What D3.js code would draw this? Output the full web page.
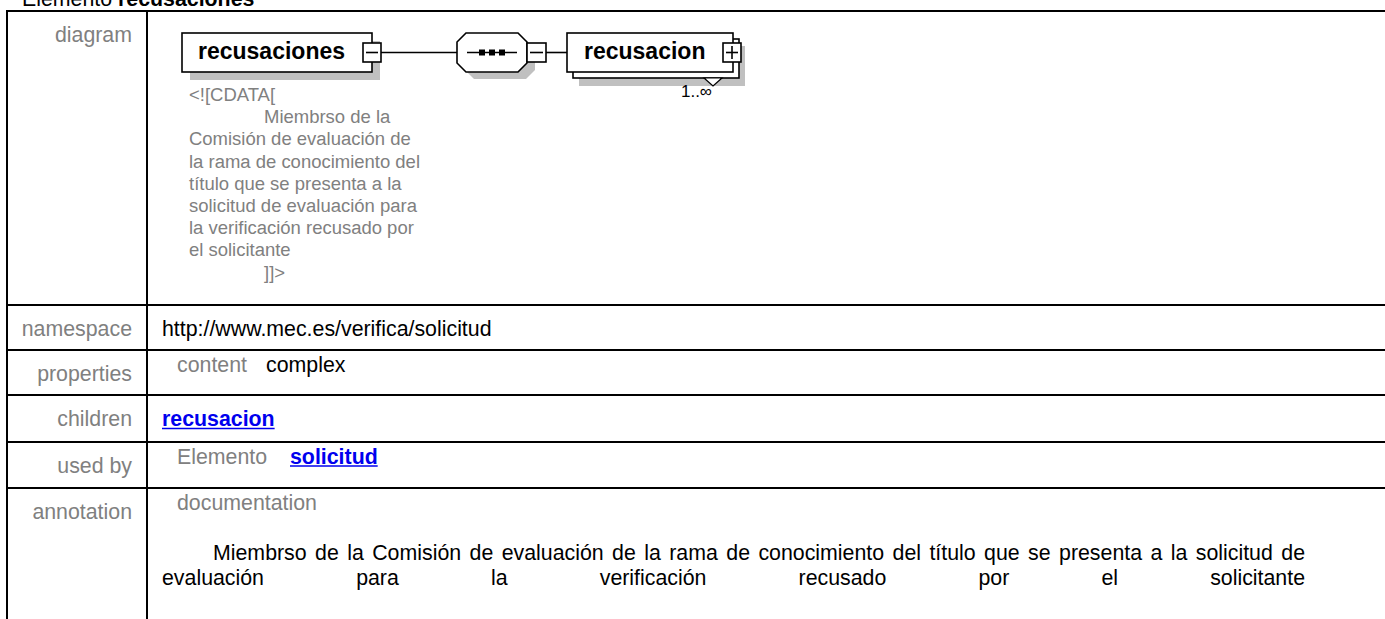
<!DOCTYPE html>
<html><head><meta charset="utf-8">
<script src="https://cdn.jsdelivr.net/npm/d3@7"></script>
<style>html,body{margin:0;padding:0;background:#fff;overflow:hidden}</style>
</head><body>
<svg id="c" width="1385" height="619"></svg>
<script>
// ---------- data ----------
const titleParts = ["Elemento", "recusaciones"];
const rowLabels = ["diagram", "namespace", "properties", "children", "used by", "annotation"];
const namespaceValue = "http://www.mec.es/verifica/solicitud";
const propertyKeys = ["content"];
const propertyValues = ["complex"];
const childrenLinks = ["recusacion"];
const usedByKinds = ["Elemento"];
const usedByLinks = ["solicitud"];
const annotationKeys = ["documentation"];
const documentationText = "Miembrso de la Comisión de evaluación de la rama de conocimiento del título que se presenta a la solicitud de evaluación para la verificación recusado por el solicitante";
const diagramNodes = ["recusaciones", "recusacion"];
const diagramCardinality = "1..∞";
const diagramNote = ["<![CDATA[", "Miembrso de la", "Comisión de evaluación de", "la rama de conocimiento del", "título que se presenta a la", "solicitud de evaluación para", "la verificación recusado por", "el solicitante", "]]>"];
const diagramNoteIndented = [false, true, false, false, false, false, false, false, true];

// ---------- setup ----------
const W = 1385, H = 619;
const svg = d3.select("#c");
svg.append("rect").attr("width", W).attr("height", H).attr("fill", "#fff");
const FONT = "'Liberation Sans', Arial, Helvetica, sans-serif";
const FS = 21.33;
const GRAY = "#808080";
const LINK = "#0000ee";

// title (scrolled partly out of view, as in the reference)
const title = svg.append("text").attr("x", 22).attr("y", 6)
  .attr("font-family", FONT).attr("font-size", FS).attr("fill", "#000");
title.append("tspan").text(titleParts[0] + " ");
title.append("tspan").attr("font-weight", "bold").text(titleParts[1]);

// table layout
const tableLeft = 7, labelRight = 132, divider = 147, contentLeft = 162, nestedLeft = 177;
const rowTop = d3.scaleOrdinal().domain(rowLabels).range([11, 305, 350, 395, 442, 488]);
const labelBase = d => rowTop(d) + 31;
const nestedBase = d => rowTop(d) + 21.5;

const grid = svg.append("g").attr("stroke", "#000").attr("stroke-width", 2);
grid.selectAll("line.h").data(rowLabels).join("line").attr("class", "h")
  .attr("x1", tableLeft - 1).attr("x2", W + 5)
  .attr("y1", d => rowTop(d)).attr("y2", d => rowTop(d));
grid.selectAll("line.v").data([tableLeft, divider]).join("line").attr("class", "v")
  .attr("x1", d => d).attr("x2", d => d).attr("y1", rowTop("diagram") - 1).attr("y2", H + 5);

// labels
svg.selectAll("text.label").data(rowLabels).join("text").attr("class", "label")
  .attr("x", labelRight).attr("y", labelBase).attr("text-anchor", "end")
  .attr("font-family", FONT).attr("font-size", FS).attr("fill", GRAY).text(d => d);

function txt(x, y, s, opts = {}) {
  const t = svg.append("text").attr("x", x).attr("y", y)
    .attr("font-family", opts.font || FONT).attr("font-size", opts.size || FS)
    .attr("fill", opts.color || "#000").text(s);
  if (opts.bold) t.attr("font-weight", "bold");
  if (opts.anchor) t.attr("text-anchor", opts.anchor);
  if (opts.underline) {
    const w = t.node().getComputedTextLength();
    svg.append("line").attr("x1", x).attr("x2", x + w).attr("y1", y + 2.5).attr("y2", y + 2.5)
      .attr("stroke", opts.color).attr("stroke-width", 1.6);
  }
  return t;
}

// namespace
txt(contentLeft, labelBase("namespace"), namespaceValue);
// properties
txt(nestedLeft, nestedBase("properties"), propertyKeys[0], {color: GRAY});
txt(266, nestedBase("properties"), propertyValues[0]);
// children
txt(contentLeft, labelBase("children"), childrenLinks[0], {bold: true, color: LINK, underline: true});
// used by
txt(nestedLeft, nestedBase("used by"), usedByKinds[0], {color: GRAY});
txt(290, nestedBase("used by"), usedByLinks[0], {bold: true, color: LINK, underline: true});
// annotation
txt(nestedLeft, nestedBase("annotation"), annotationKeys[0], {color: GRAY});

// justified documentation text
(function () {
  const words = documentationText.split(/\s+/);
  const right = 1305;
  const lines = [{x0: 213, words: []}];
  const probe = svg.append("text").attr("font-family", FONT).attr("font-size", FS);
  const measure = s => { probe.text(s); return probe.node().getComputedTextLength(); };
  let cur = lines[0];
  words.forEach(w => {
    const cand = cur.words.concat([w]).join(" ");
    if (cur.words.length && cur.x0 + measure(cand) > right) {
      cur = {x0: contentLeft, words: [w]};
      lines.push(cur);
    } else cur.words.push(w);
  });
  const lineY = [560, 584.5];
  lines.forEach((ln, i) => {
    const widths = ln.words.map(measure);
    const total = d3.sum(widths);
    const gap = ln.words.length > 1 ? (right - ln.x0 - total) / (ln.words.length - 1) : 0;
    let x = ln.x0;
    ln.words.forEach((w, j) => {
      txt(x, lineY[i], w);
      x += widths[j] + gap;
    });
  });
  probe.remove();
})();

// ---------- diagram ----------
const dg = svg.append("g");
const SH = "#c0c0c0", LW = 1.6, CY = 52.5;
const box = (x, y, w, h, fill, stroke) => dg.append("rect").attr("x", x).attr("y", y).attr("width", w).attr("height", h)
  .attr("fill", fill).attr("stroke", stroke || "none").attr("stroke-width", LW);
const seg = (x1, y1, x2, y2) => dg.append("line").attr("x1", x1).attr("y1", y1).attr("x2", x2).attr("y2", y2)
  .attr("stroke", "#000").attr("stroke-width", LW);
const oct = (x0, y0, x1, y1, c) => [[x0 + c, y0], [x1 - c, y0], [x1, y0 + c], [x1, y1 - c], [x1 - c, y1], [x0 + c, y1], [x0, y1 - c], [x0, y0 + c]];

// shadows
box(190, 41, 190, 39, SH);
dg.append("polygon").attr("points", oct(465, 40, 535, 79, 9).join(" ")).attr("fill", SH);
box(579, 46, 166, 40, SH);

// root element
box(182, 33, 190, 39, "#fff", "#000");
dg.append("text").attr("x", 198).attr("y", CY + 6).attr("font-family", FONT).attr("font-weight", "bold")
  .attr("font-size", 23).text(diagramNodes[0]);
box(363, 43, 18, 19, "#fff", "#000");
seg(366, CY, 378, CY);
seg(381, CY, 457, CY);

// sequence compositor
dg.append("polygon").attr("points", oct(457, 33, 527, 72, 9).join(" "))
  .attr("fill", "#fff").attr("stroke", "#000").attr("stroke-width", LW);
seg(467, CY, 517, CY);
[482, 492, 502].forEach(cx => box(cx - 3, CY - 3, 6, 6, "#000"));
box(527, 43, 19, 19, "#fff", "#000");
seg(530, CY, 543, CY);
seg(546, CY, 567, CY);

// child element (multiple occurrence)
box(573, 39, 166, 39, "#fff", "#000");
box(567, 33, 166, 39, "#fff", "#000");
dg.append("text").attr("x", 584).attr("y", CY + 6).attr("font-family", FONT).attr("font-weight", "bold")
  .attr("font-size", 23).text(diagramNodes[1]);
box(723, 43, 18, 19, "#fff", "#000");
seg(726, CY, 738, CY);
seg(732, 46, 732, 59);
dg.append("polygon").attr("points", [[704, 78], [722, 78], [713, 86]].join(" "))
  .attr("fill", "#fff").attr("stroke", "#000").attr("stroke-width", 1.2);
dg.append("text").attr("x", 712).attr("y", 97).attr("text-anchor", "end")
  .attr("font-family", FONT).attr("font-size", 17).text(diagramCardinality);

// annotation note (fit font size to width of a reference line)
(function () {
  const probe = dg.append("text").attr("font-family", FONT).attr("font-size", 20).text(diagramNote[2]);
  const size = 20 * 222 / probe.node().getComputedTextLength();
  probe.remove();
  dg.selectAll("text.note").data(diagramNote).join("text").attr("class", "note")
    .attr("x", (d, i) => diagramNoteIndented[i] ? 264 : 189)
    .attr("y", (d, i) => 101 + i * 22.2)
    .attr("font-family", FONT).attr("font-size", size).attr("fill", GRAY).text(d => d);
})();
</script>
</body></html>
